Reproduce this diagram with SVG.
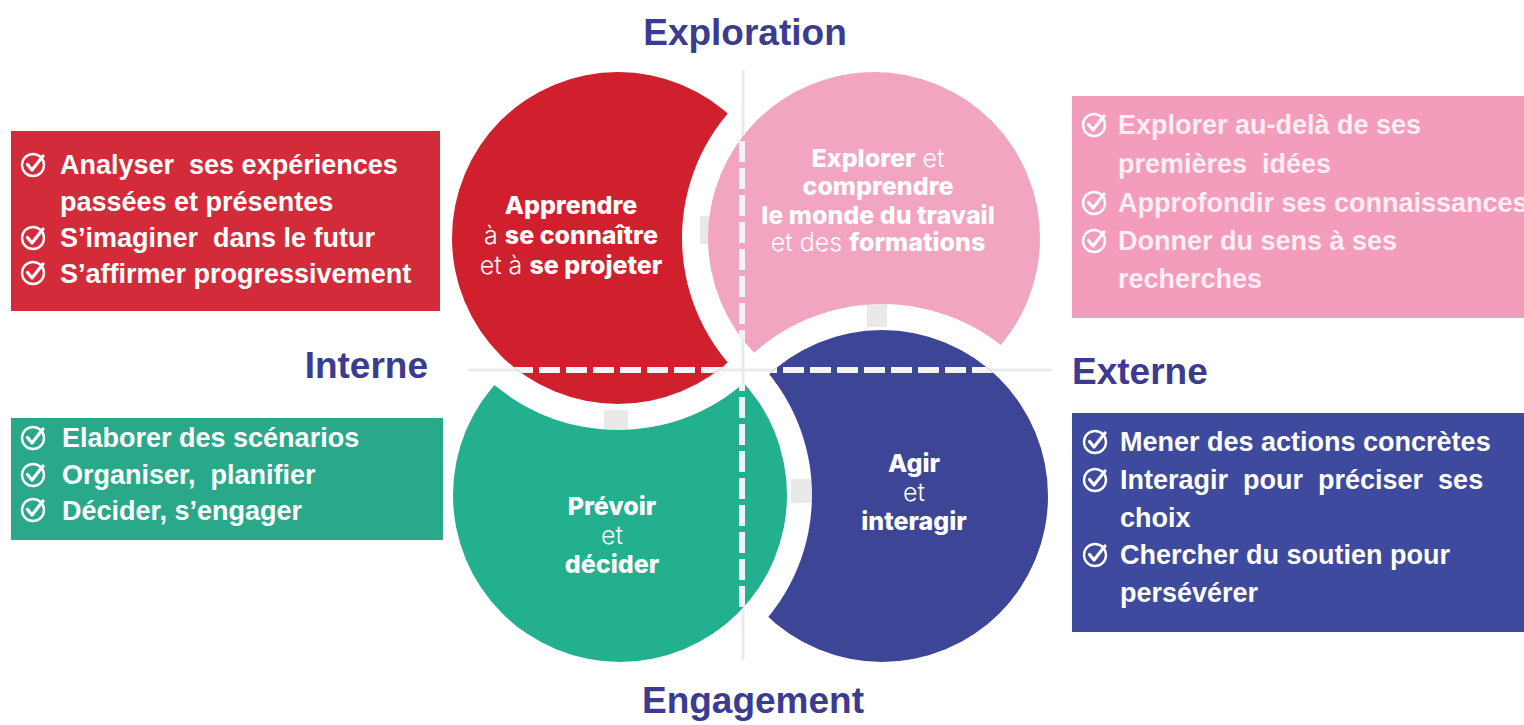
<svg xmlns="http://www.w3.org/2000/svg" xmlns:xlink="http://www.w3.org/1999/xlink" width="1524" height="725" viewBox="0 0 1524 725">
<style>
.title{font-family:"Liberation Sans",Arial,sans-serif;font-weight:bold;fill:#3b3c8f;font-size:37px}
.item{font-family:"Liberation Sans",Arial,sans-serif;font-weight:bold;fill:#ffffff;font-size:27px}
.pinkitem{fill:#fdeef3}
.ct{font-family:Inter,Lato,"DejaVu Sans",sans-serif;fill:#ffffff;text-anchor:middle}
.b{font-weight:800}
.l{font-weight:300}
.axis{stroke:#ebebeb;stroke-width:3;fill:none}
.dash{stroke:#f4f4f8;stroke-width:6;stroke-dasharray:21 6;fill:none}
.patch{fill:#e9e9e9}
</style>
<defs>
<g id="chk">
<circle cx="0" cy="0" r="11" fill="none" stroke="#ffffff" stroke-width="2.4"/>
<path d="M-5.5 -0.5 L-1 5 L10 -9" fill="none" stroke="#ffffff" stroke-width="3.2" stroke-linecap="round" stroke-linejoin="round"/>
</g>
<mask id="mR"><rect width="1524" height="725" fill="#fff"/><circle cx="874" cy="238" r="192" fill="#000"/></mask>
<mask id="mP"><rect width="1524" height="725" fill="#fff"/><circle cx="882" cy="496" r="192" fill="#000"/></mask>
<mask id="mB"><rect width="1524" height="725" fill="#fff"/><circle cx="620" cy="495" r="192" fill="#000"/></mask>
<mask id="mG"><rect width="1524" height="725" fill="#fff"/><circle cx="618" cy="238" r="192" fill="#000"/></mask>
<clipPath id="cR"><circle cx="618" cy="238" r="166"/></clipPath>
<clipPath id="cP"><circle cx="874" cy="238" r="166"/></clipPath>
<clipPath id="cG"><circle cx="620" cy="495" r="167"/></clipPath>
<clipPath id="cB"><circle cx="882" cy="496" r="166"/></clipPath>
</defs>
<rect width="1524" height="725" fill="#ffffff"/>

<g id="connectors">
<line class="axis" x1="468" y1="370" x2="1052" y2="370"/>
<line class="axis" x1="743" y1="70" x2="743" y2="660"/>
<rect class="patch" x="700" y="216" width="14" height="28"/>
<rect class="patch" x="867" y="303" width="20" height="24"/>
<rect class="patch" x="604" y="410" width="24" height="22"/>
<rect class="patch" x="791" y="479" width="24" height="24"/>
</g>

<g id="titles">
<text class="title" x="745" y="45" text-anchor="middle">Exploration</text>
<text class="title" x="753" y="713" text-anchor="middle">Engagement</text>
<text class="title" x="428" y="378" text-anchor="end" font-size="38">Interne</text>
<text class="title" x="1072" y="384" font-size="38">Externe</text>
</g>

<g id="node-red">
<g mask="url(#mR)">
<circle cx="618" cy="238" r="166" fill="#d01f2d"/>
<line class="dash" x1="452" y1="370" x2="790" y2="370" clip-path="url(#cR)" stroke-dashoffset="-6"/>
</g>
<text class="ct" font-size="25"><tspan class="b" x="571" y="214">Apprendre</tspan><tspan x="571" y="244"><tspan class="l">à </tspan><tspan class="b">se connaître</tspan></tspan><tspan x="571" y="274"><tspan class="l">et à </tspan><tspan class="b">se projeter</tspan></tspan></text>
</g>

<g id="node-pink">
<g mask="url(#mP)">
<circle cx="874" cy="238" r="166" fill="#f2a5c1"/>
<line class="dash" x1="742" y1="60" x2="742" y2="400" clip-path="url(#cP)"/>
</g>
<text class="ct" font-size="25"><tspan x="878" y="167"><tspan class="b">Explorer</tspan><tspan class="l"> et</tspan></tspan><tspan class="b" x="878" y="195">comprendre</tspan><tspan class="b" x="878" y="224">le monde du travail</tspan><tspan x="878" y="251"><tspan class="l">et des </tspan><tspan class="b">formations</tspan></tspan></text>
</g>

<g id="node-green">
<g mask="url(#mG)">
<circle cx="620" cy="495" r="167" fill="#22b08f"/>
<line class="dash" x1="742" y1="370" x2="742" y2="680" clip-path="url(#cG)"/>
</g>
<text class="ct" font-size="25"><tspan class="b" x="612" y="515">Prévoir</tspan><tspan class="l" x="612" y="544">et</tspan><tspan class="b" x="612" y="573">décider</tspan></text>
</g>

<g id="node-blue">
<g mask="url(#mB)">
<circle cx="882" cy="496" r="166" fill="#3d4597"/>
<line class="dash" x1="700" y1="370" x2="1060" y2="370" clip-path="url(#cB)" stroke-dashoffset="-2"/>
</g>
<text class="ct" font-size="25"><tspan class="b" x="914" y="472">Agir</tspan><tspan class="l" x="914" y="501">et</tspan><tspan class="b" x="914" y="530">interagir</tspan></text>
</g>

<g id="box-red">
<rect x="11" y="131" width="429" height="180" fill="#d42b3b"/>
<use xlink:href="#chk" x="33" y="165"/>
<use xlink:href="#chk" x="33" y="238"/>
<use xlink:href="#chk" x="33" y="273"/>
<text class="item"><tspan x="60" y="174">Analyser&#160; ses expériences</tspan><tspan x="60" y="211">passées et présentes</tspan><tspan x="60" y="247">S’imaginer&#160; dans le futur</tspan><tspan x="60" y="283">S’affirmer progressivement</tspan></text>
</g>

<g id="box-green">
<rect x="11" y="418" width="432" height="122" fill="#2aa98a"/>
<use xlink:href="#chk" x="33" y="438"/>
<use xlink:href="#chk" x="33" y="475"/>
<use xlink:href="#chk" x="33" y="510"/>
<text class="item"><tspan x="62" y="447">Elaborer des scénarios</tspan><tspan x="62" y="484">Organiser,&#160; planifier</tspan><tspan x="62" y="520">Décider, s’engager</tspan></text>
</g>

<g id="box-pink">
<rect x="1072" y="96" width="460" height="222" fill="#f39cbb"/>
<use xlink:href="#chk" x="1094" y="125"/>
<use xlink:href="#chk" x="1094" y="203"/>
<use xlink:href="#chk" x="1094" y="241"/>
<text class="item pinkitem"><tspan x="1118" y="134">Explorer au-delà de ses</tspan><tspan x="1118" y="173">premières&#160; idées</tspan><tspan x="1118" y="212">Approfondir ses connaissances</tspan><tspan x="1118" y="250">Donner du sens à ses</tspan><tspan x="1118" y="288">recherches</tspan></text>
</g>

<g id="box-blue">
<rect x="1072" y="413" width="460" height="219" fill="#3d4a9e"/>
<use xlink:href="#chk" x="1095" y="442"/>
<use xlink:href="#chk" x="1095" y="480"/>
<use xlink:href="#chk" x="1095" y="555"/>
<text class="item"><tspan x="1120" y="451">Mener des actions concrètes</tspan><tspan x="1120" y="489">Interagir&#160; pour&#160; préciser&#160; ses</tspan><tspan x="1120" y="527">choix</tspan><tspan x="1120" y="564">Chercher du soutien pour</tspan><tspan x="1120" y="602">persévérer</tspan></text>
</g>
</svg>
